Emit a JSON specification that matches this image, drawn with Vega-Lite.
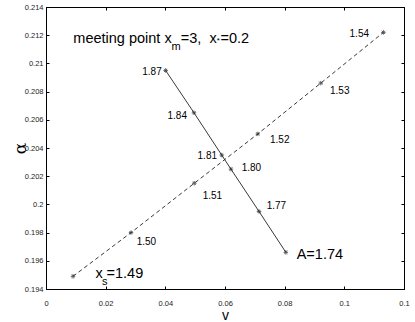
{
  "$schema": "https://vega.github.io/schema/vega-lite/v6.json",
  "width": 358,
  "height": 282,
  "autosize": "none",
  "padding": {"left": 46, "top": 7, "right": 11, "bottom": 33},
  "background": "white",
  "config": {
    "view": {"stroke": "black", "strokeWidth": 1},
    "font": "Liberation Sans",
    "axis": {
      "grid": false,
      "domainColor": "black",
      "tickColor": "black",
      "tickSize": -3,
      "labelFont": "Liberation Sans",
      "labelFontSize": 7.5,
      "labelColor": "#222",
      "labelFlush": false,
      "labelOverlap": false,
      "labelBound": false,
      "titleFontWeight": "normal",
      "titleColor": "black"
    }
  },
  "datasets": {
    "pts": [
      {"series": "s", "k": 1, "v": 0.00905, "alpha": 0.1949},
      {"series": "s", "k": 2, "v": 0.0285, "alpha": 0.1980},
      {"series": "s", "k": 3, "v": 0.0497, "alpha": 0.2015},
      {"series": "s", "k": 4, "v": 0.0710, "alpha": 0.2050},
      {"series": "s", "k": 5, "v": 0.0921, "alpha": 0.2086},
      {"series": "s", "k": 6, "v": 0.1131, "alpha": 0.2122},
      {"series": "A", "k": 1, "v": 0.0401, "alpha": 0.2095},
      {"series": "A", "k": 2, "v": 0.0496, "alpha": 0.2065},
      {"series": "A", "k": 3, "v": 0.0589, "alpha": 0.2035},
      {"series": "A", "k": 4, "v": 0.0620, "alpha": 0.2025},
      {"series": "A", "k": 5, "v": 0.0714, "alpha": 0.1995},
      {"series": "A", "k": 6, "v": 0.0804, "alpha": 0.1966}
    ],
    "labelsRight": [
      {"t": "1.87", "v": 0.03878, "a": 0.20936},
      {"t": "1.84", "v": 0.04726, "a": 0.20629},
      {"t": "1.81", "v": 0.05732, "a": 0.20340},
      {"t": "1.54", "v": 0.10827, "a": 0.21211}
    ],
    "labelsLeft": [
      {"t": "1.80", "v": 0.0656, "a": 0.20260},
      {"t": "1.51", "v": 0.05253, "a": 0.20057},
      {"t": "1.52", "v": 0.07508, "a": 0.20459},
      {"t": "1.77", "v": 0.07398, "a": 0.19986},
      {"t": "1.50", "v": 0.0304, "a": 0.19730},
      {"t": "1.53", "v": 0.0952, "a": 0.20804}
    ],
    "big": [
      {"t": "A=1.74", "v": 0.08403, "a": 0.1961},
      {"t": "x", "v": 0.01659, "a": 0.19476},
      {"t": "=1.49", "v": 0.02028, "a": 0.19476}
    ],
    "title": [
      {"t": "meeting point x", "v": 0.00915, "a": 0.21144},
      {"t": "=3,\u00a0\u00a0x", "v": 0.04518, "a": 0.21144},
      {"t": "=0.2", "v": 0.05849, "a": 0.21144}
    ],
    "subs": [
      {"t": "s", "v": 0.01877, "a": 0.19426},
      {"t": "m", "v": 0.0421, "a": 0.21098}
    ],
    "star": [
      {"t": "*", "v": 0.05722, "a": 0.21144}
    ]
  },
  "layer": [
    {
      "data": {"name": "pts"},
      "transform": [{"filter": "datum.series === 's'"}],
      "mark": {"type": "line", "color": "#222", "strokeWidth": 0.9, "strokeDash": [4, 3]},
      "encoding": {
        "x": {"field": "v", "type": "quantitative", "scale": {"domain": [0, 0.12], "nice": false, "zero": false},
          "axis": {"orient": "bottom", "values": [0, 0.02, 0.04, 0.06, 0.08, 0.1, 0.12], "format": "~g", "labelPadding": 13.5, "title": "v", "titleFontSize": 14, "titleFont": "Liberation Sans", "titlePadding": 1.5}},
        "y": {"field": "alpha", "type": "quantitative", "scale": {"domain": [0.194, 0.214], "nice": false, "zero": false},
          "axis": {"orient": "left", "values": [0.194, 0.196, 0.198, 0.2, 0.202, 0.204, 0.206, 0.208, 0.21, 0.212, 0.214], "format": "~g", "labelPadding": 6, "title": "α", "titleFontSize": 17, "titleFont": "DejaVu Serif", "titlePadding": -5}},
        "order": {"field": "k", "type": "quantitative"}
      }
    },
    {
      "data": {"name": "pts"},
      "transform": [{"filter": "datum.series === 'A'"}],
      "mark": {"type": "line", "color": "#222", "strokeWidth": 0.9},
      "encoding": {
        "x": {"field": "v", "type": "quantitative",
          "axis": {"orient": "top", "values": [0, 0.02, 0.04, 0.06, 0.08, 0.1, 0.12], "labels": false, "title": null}},
        "y": {"field": "alpha", "type": "quantitative",
          "axis": {"orient": "right", "values": [0.194, 0.196, 0.198, 0.2, 0.202, 0.204, 0.206, 0.208, 0.21, 0.212, 0.214], "labels": false, "title": null}},
        "order": {"field": "k", "type": "quantitative"}
      }
    },
    {
      "data": {"name": "pts"},
      "mark": {"type": "point", "shape": "M-1,0L1,0M0,-1L0,1M-0.7,-0.7L0.7,0.7M-0.7,0.7L0.7,-0.7", "size": 20, "filled": false, "stroke": "#222", "strokeWidth": 1},
      "encoding": {
        "x": {"field": "v", "type": "quantitative", "axis": null},
        "y": {"field": "alpha", "type": "quantitative", "axis": null}
      }
    },
    {
      "data": {"name": "labelsRight"},
      "mark": {"type": "text", "align": "right", "baseline": "middle", "fontSize": 10, "fill": "black"},
      "encoding": {
        "x": {"field": "v", "type": "quantitative", "axis": null},
        "y": {"field": "a", "type": "quantitative", "axis": null},
        "text": {"field": "t"}
      }
    },
    {
      "data": {"name": "labelsLeft"},
      "mark": {"type": "text", "align": "left", "baseline": "middle", "fontSize": 10, "fill": "black"},
      "encoding": {
        "x": {"field": "v", "type": "quantitative", "axis": null},
        "y": {"field": "a", "type": "quantitative", "axis": null},
        "text": {"field": "t"}
      }
    },
    {
      "data": {"name": "big"},
      "mark": {"type": "text", "align": "left", "baseline": "alphabetic", "fontSize": 14.5, "fill": "black"},
      "encoding": {
        "x": {"field": "v", "type": "quantitative", "axis": null},
        "y": {"field": "a", "type": "quantitative", "axis": null},
        "text": {"field": "t"}
      }
    },
    {
      "data": {"name": "title"},
      "mark": {"type": "text", "align": "left", "baseline": "alphabetic", "fontSize": 14.5, "fill": "black"},
      "encoding": {
        "x": {"field": "v", "type": "quantitative", "axis": null},
        "y": {"field": "a", "type": "quantitative", "axis": null},
        "text": {"field": "t"}
      }
    },
    {
      "data": {"name": "subs"},
      "mark": {"type": "text", "align": "left", "baseline": "alphabetic", "fontSize": 11, "fill": "black"},
      "encoding": {
        "x": {"field": "v", "type": "quantitative", "axis": null},
        "y": {"field": "a", "type": "quantitative", "axis": null},
        "text": {"field": "t"}
      }
    },
    {
      "data": {"name": "star"},
      "mark": {"type": "text", "align": "left", "baseline": "alphabetic", "fontSize": 8, "fill": "black"},
      "encoding": {
        "x": {"field": "v", "type": "quantitative", "axis": null},
        "y": {"field": "a", "type": "quantitative", "axis": null},
        "text": {"field": "t"}
      }
    }
  ],
  "resolve": {"axis": {"x": "independent", "y": "independent"}}
}
